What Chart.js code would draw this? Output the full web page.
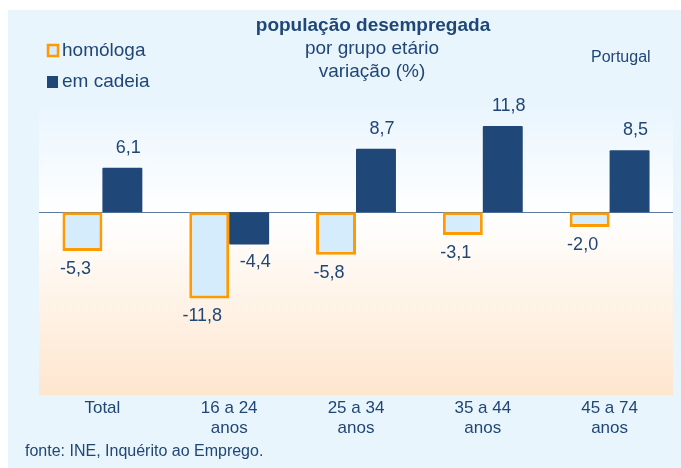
<!DOCTYPE html>
<html>
<head>
<meta charset="utf-8">
<script src="https://cdn.jsdelivr.net/npm/chart.js@4"></script>
<style>
html,body{margin:0;padding:0;background:#ffffff;}
#wrap{width:681px;height:468px;position:relative;}
</style>
</head>
<body>
<div id="wrap"><canvas id="c" width="681" height="468"></canvas></div>
<script>
const categories = [["Total"], ["16 a 24", "anos"], ["25 a 34", "anos"], ["35 a 44", "anos"], ["45 a 74", "anos"]];
const homologa = [-5.3, -11.8, -5.8, -3.1, -2.0];
const emCadeia = [6.1, -4.4, 8.7, 11.8, 8.5];
const seriesNames = ["homóloga", "em cadeia"];
const titleText = "população desempregada";
const subtitleLines = ["por grupo etário", "variação (%)"];
const regionText = "Portugal";
const sourceText = "fonte: INE, Inquérito ao Emprego.";

const FONT = "'Liberation Sans', Arial, sans-serif";
const NAVY = "#1f4778";
const TEXT = "#1f4676";
const ORANGE = "#ff9a00";
const LIGHT = "#d4ecfc";
const PANEL = "#e9f5fd";

const fmt = v => v.toFixed(1).replace(".", ",");

const decor = {
  id: "decor",
  beforeDraw(chart) {
    const ctx = chart.ctx;
    const a = chart.chartArea;
    ctx.save();
    ctx.fillStyle = "#ffffff";
    ctx.fillRect(0, 0, chart.width, chart.height);
    ctx.fillStyle = PANEL;
    ctx.fillRect(8, 10, chart.width - 8, chart.height - 10);
    const g = ctx.createLinearGradient(0, a.top, 0, a.bottom);
    g.addColorStop(0, "#eaf5fe");
    g.addColorStop(0.37, "#ffffff");
    g.addColorStop(0.5, "#fffaf5");
    g.addColorStop(1, "#fee6cf");
    ctx.fillStyle = g;
    ctx.fillRect(a.left, a.top, a.right - a.left, a.bottom - a.top);
    const y0 = chart.scales.y.getPixelForValue(0);
    ctx.strokeStyle = "#5b7ba3";
    ctx.lineWidth = 1.2;
    ctx.beginPath();
    ctx.moveTo(a.left, Math.round(y0) + 0.5);
    ctx.lineTo(a.right, Math.round(y0) + 0.5);
    ctx.stroke();
    ctx.fillStyle = TEXT;
    ctx.textBaseline = "middle";
    ctx.textAlign = "center";
    ctx.font = "bold 19px " + FONT;
    ctx.fillText(titleText, 373, 26);
    ctx.font = "19px " + FONT;
    ctx.fillText(subtitleLines[0], 372, 49);
    ctx.fillText(subtitleLines[1], 372, 72);
    ctx.textAlign = "left";
    ctx.font = "16px " + FONT;
    ctx.fillText(regionText, 591, 58);
    ctx.fillText(sourceText, 25, 452);
    ctx.font = "19px " + FONT;
    ctx.fillStyle = LIGHT;
    ctx.fillRect(48, 45, 10, 11);
    ctx.strokeStyle = ORANGE;
    ctx.lineWidth = 2.5;
    ctx.strokeRect(48, 45, 10, 11);
    ctx.fillStyle = NAVY;
    ctx.fillRect(47, 76, 11, 12);
    ctx.fillStyle = TEXT;
    ctx.fillText(seriesNames[0], 62, 51);
    ctx.fillText(seriesNames[1], 62, 82);
    ctx.restore();
  },
  afterDatasetsDraw(chart) {
    const ctx = chart.ctx;
    ctx.save();
    ctx.font = "18px " + FONT;
    ctx.fillStyle = TEXT;
    ctx.textAlign = "center";
    ctx.textBaseline = "middle";
    chart.data.datasets.forEach((ds, di) => {
      const meta = chart.getDatasetMeta(di);
      const dx = di === 0 ? -7 : 6;
      meta.data.forEach((el, i) => {
        const v = ds.data[i];
        const y = v >= 0 ? el.y - 20 : el.y + 18;
        ctx.fillText(fmt(v), el.x + dx, y);
      });
    });
    ctx.restore();
  }
};

new Chart(document.getElementById("c"), {
  type: "bar",
  data: {
    labels: categories,
    datasets: [
      {
        label: seriesNames[0],
        data: homologa,
        backgroundColor: LIGHT,
        borderColor: ORANGE,
        borderWidth: 3,
        borderSkipped: false,
        categoryPercentage: 0.63,
        barPercentage: 1.0
      },
      {
        label: seriesNames[1],
        data: emCadeia,
        backgroundColor: NAVY,
        borderWidth: 0,
        borderRadius: 1,
        categoryPercentage: 0.63,
        barPercentage: 1.0
      }
    ]
  },
  options: {
    responsive: false,
    animation: false,
    events: [],
    layout: { padding: { left: 39, right: 8, top: 107, bottom: 0 } },
    plugins: {
      legend: { display: false },
      title: { display: false },
      tooltip: { enabled: false }
    },
    scales: {
      x: {
        grid: { display: false, drawTicks: false },
        border: { display: false },
        ticks: {
          color: TEXT,
          font: { family: FONT, size: 17, lineHeight: 1.2 },
          padding: 3,
          maxRotation: 0,
          autoSkip: false
        },
        afterFit: s => { s.height = 73; }
      },
      y: {
        display: false,
        min: -25,
        max: 14.4
      }
    }
  },
  plugins: [decor]
});
</script>
</body>
</html>
